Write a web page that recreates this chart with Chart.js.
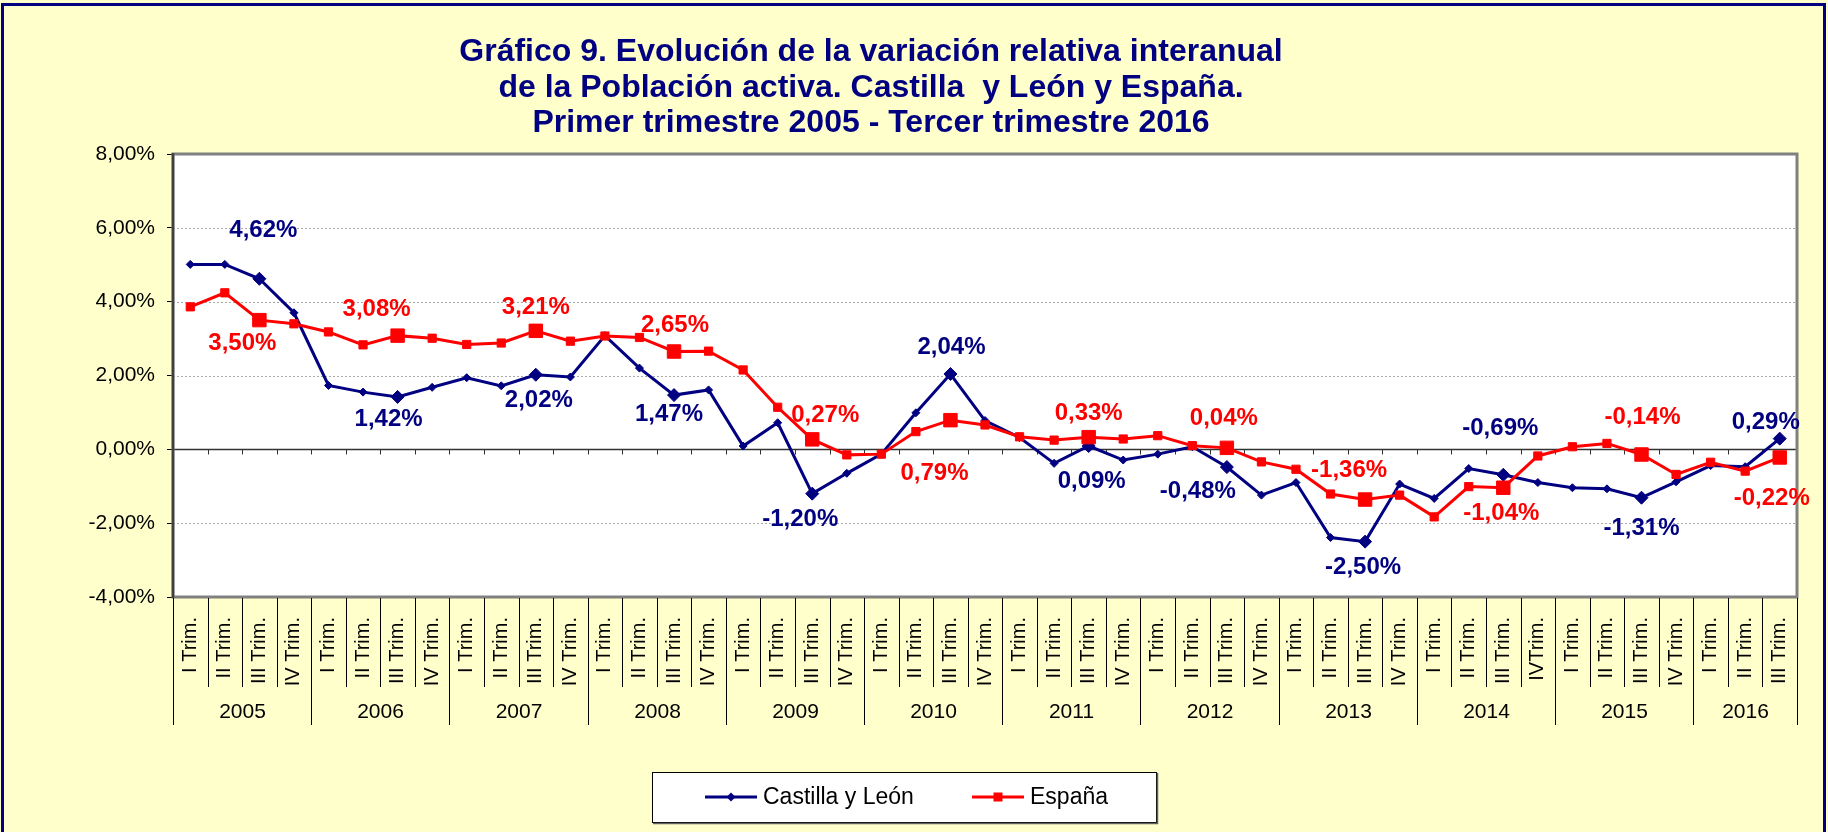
<!DOCTYPE html>
<html>
<head>
<meta charset="utf-8">
<title>Gráfico 9</title>
<script src="https://cdn.jsdelivr.net/npm/chart.js@4.4.1/dist/chart.umd.min.js"></script>
<style>
	html, body { margin: 0; padding: 0; background: #FFFFCC; }
	#wrap { width: 1828px; height: 832px; }
</style>
</head>
<body>
<div id="wrap"><canvas id="chart" width="1828" height="832"></canvas></div>
<script>
// categories
const quarterLabels = [
	'I Trim.', 'II Trim.', 'III Trim.', 'IV Trim.',
	'I Trim.', 'II Trim.', 'III Trim.', 'IV Trim.',
	'I Trim.', 'II Trim.', 'III Trim.', 'IV Trim.',
	'I Trim.', 'II Trim.', 'III Trim.', 'IV Trim.',
	'I Trim.', 'II Trim.', 'III Trim.', 'IV Trim.',
	'I Trim.', 'II Trim.', 'III Trim.', 'IV Trim.',
	'I Trim.', 'II Trim.', 'III Trim.', 'IV Trim.',
	'I Trim.', 'II Trim.', 'III Trim.', 'IV Trim.',
	'I Trim.', 'II Trim.', 'III Trim.', 'IV Trim.',
	'I Trim.', 'II Trim.', 'III Trim.', 'IVTrim.',
	'I Trim.', 'II Trim.', 'III Trim.', 'IV Trim.',
	'I Trim.', 'II Trim.', 'III Trim.'
];
const years = ['2005', '2006', '2007', '2008', '2009', '2010', '2011', '2012', '2013', '2014', '2015', '2016'];
const quartersPerYear = [4, 4, 4, 4, 4, 4, 4, 4, 4, 4, 4, 3];

// series values (%)
const cylValues = [
	5.01, 5.01, 4.62, 3.70, 1.73, 1.55, 1.42, 1.68, 1.94, 1.72, 2.02, 1.96,
	3.08, 2.20, 1.47, 1.61, 0.09, 0.72, -1.20, -0.65, -0.13, 0.99, 2.04, 0.78,
	0.32, -0.38, 0.09, -0.29, -0.13, 0.07, -0.48, -1.24, -0.90, -2.39, -2.50, -0.94,
	-1.33, -0.52, -0.69, -0.90, -1.04, -1.07, -1.31, -0.88, -0.44, -0.47, 0.29
];
const espValues = [
	3.86, 4.24, 3.50, 3.40, 3.18, 2.83, 3.08, 3.01, 2.84, 2.88, 3.21, 2.93,
	3.07, 3.03, 2.65, 2.66, 2.15, 1.14, 0.27, -0.15, -0.13, 0.48, 0.79, 0.66,
	0.34, 0.25, 0.33, 0.28, 0.37, 0.10, 0.04, -0.34, -0.54, -1.21, -1.36, -1.24,
	-1.83, -1.01, -1.04, -0.18, 0.07, 0.16, -0.14, -0.68, -0.35, -0.59, -0.22
];

// labelled points (third quarter of every year)
const labelIdx = [2, 6, 10, 14, 18, 22, 26, 30, 34, 38, 42, 46];

// y axis ticks
const yMin = -4;
const yMax = 8;
const yStep = 2;

const titleLines = [
	'Gráfico 9. Evolución de la variación relativa interanual',
	'de la Población activa. Castilla  y León y España.',
	'Primer trimestre 2005 - Tercer trimestre 2016'
];

// label offsets from the point (px), one pair per labelled point
const cylLabelOffsets = [[4, -48], [-9, 22], [3, 26], [-5, 19], [-12, 26], [1, -27], [3, 35], [-29, 24], [-2, 26], [-3, -46], [0, 31], [-14, -16]];
const espLabelOffsets = [[-17, 23], [-21, -26], [0, -23], [1, -26], [13, -24], [-16, 53], [0, -24], [-3, -29], [-16, -29], [-2, 26], [1, -37], [-8, 41]];
const labelOffsets = [cylLabelOffsets, espLabelOffsets];

const NAVY = '#000080';
const RED = '#FF0000';
const FONT = '"Liberation Sans", Arial, Helvetica, sans-serif';

function fmt(v)
{
	return v.toFixed(2).replace('.', ',') + '%';
}

const decorations = {
	id: 'decorations',
	beforeDraw(chart) {
		const ctx = chart.ctx;
		const a = chart.chartArea;
		ctx.save();
		ctx.fillStyle = '#FFFFCC';
		ctx.fillRect(0, 0, chart.width, chart.height);
		ctx.strokeStyle = NAVY;
		ctx.lineWidth = 3;
		ctx.strokeRect(2.5, 4.5, chart.width - 6, chart.height + 20);
		ctx.fillStyle = '#FFFFFF';
		ctx.fillRect(a.left, a.top, a.right - a.left, a.bottom - a.top);
		ctx.restore();
	},
	beforeDatasetsDraw(chart) {
		const ctx = chart.ctx;
		const a = chart.chartArea;
		const y = chart.scales.y;
		const x = chart.scales.x;
		ctx.save();
		// dotted gridlines
		ctx.strokeStyle = '#A8A8A8';
		ctx.lineWidth = 1;
		ctx.setLineDash([2, 2]);
		for (let v = yMin + yStep; v < yMax; v += yStep)
		{
			if (v === 0)
				continue;
			const py = Math.round(y.getPixelForValue(v)) + 0.5;
			ctx.beginPath();
			ctx.moveTo(a.left, py);
			ctx.lineTo(a.right, py);
			ctx.stroke();
		}
		ctx.setLineDash([]);
		// zero line with category ticks
		const y0 = Math.round(y.getPixelForValue(0)) + 0.5;
		ctx.strokeStyle = '#333333';
		ctx.lineWidth = 1.5;
		ctx.beginPath();
		ctx.moveTo(a.left, y0);
		ctx.lineTo(a.right, y0);
		ctx.stroke();
		const half = (x.getPixelForValue(1) - x.getPixelForValue(0)) / 2;
		ctx.lineWidth = 1;
		ctx.beginPath();
		for (let i = 0; i <= quarterLabels.length; i++)
		{
			const bx = Math.round(x.getPixelForValue(i) - half) + 0.5;
			ctx.moveTo(bx, y0);
			ctx.lineTo(bx, y0 + 5);
		}
		ctx.stroke();
		// plot border
		ctx.strokeStyle = '#808080';
		ctx.lineWidth = 3;
		ctx.strokeRect(a.left, a.top, a.right - a.left, a.bottom - a.top);
		ctx.strokeStyle = '#404040';
		ctx.lineWidth = 2.5;
		ctx.beginPath();
		ctx.moveTo(a.left, a.top - 1);
		ctx.lineTo(a.left, a.bottom + 1);
		ctx.stroke();
		ctx.restore();
	},
	afterDatasetsDraw(chart) {
		const ctx = chart.ctx;
		ctx.save();
		ctx.font = 'bold 24px ' + FONT;
		ctx.textAlign = 'center';
		ctx.textBaseline = 'middle';
		chart.data.datasets.forEach((ds, d) => {
			const meta = chart.getDatasetMeta(d);
			ctx.fillStyle = ds.borderColor;
			labelIdx.forEach((idx, k) => {
				const pt = meta.data[idx];
				const off = labelOffsets[d][k];
				ctx.fillText(fmt(ds.data[idx]), pt.x + off[0], pt.y + off[1]);
			});
		});
		ctx.restore();
	},
	afterDraw(chart) {
		const ctx = chart.ctx;
		const a = chart.chartArea;
		const x = chart.scales.x;
		ctx.save();

		// title
		ctx.fillStyle = NAVY;
		ctx.font = 'bold 32px ' + FONT;
		ctx.textAlign = 'center';
		ctx.textBaseline = 'alphabetic';
		const baselines = [61, 97, 132];
		titleLines.forEach((t, i) => ctx.fillText(t, 871, baselines[i]));

		// category separators and year labels
		const half = (x.getPixelForValue(1) - x.getPixelForValue(0)) / 2;
		ctx.strokeStyle = '#000000';
		ctx.lineWidth = 1;
		ctx.font = '21px ' + FONT;
		ctx.fillStyle = '#000000';
		ctx.textBaseline = 'middle';
		let start = 0;
		ctx.beginPath();
		for (let i = 0; i <= quarterLabels.length; i++)
		{
			const bx = Math.round(x.getPixelForValue(i) - half) + 0.5;
			ctx.moveTo(bx, a.bottom + 1);
			ctx.lineTo(bx, a.bottom + 90);
		}
		years.forEach((yr, j) => {
			const end = start + quartersPerYear[j];
			const x1 = Math.round(x.getPixelForValue(start) - half) + 0.5;
			const x2 = Math.round(x.getPixelForValue(end - 1) + half) + 0.5;
			ctx.moveTo(x1, a.bottom + 1);
			ctx.lineTo(x1, a.bottom + 128);
			ctx.moveTo(x2, a.bottom + 1);
			ctx.lineTo(x2, a.bottom + 128);
			ctx.fillText(yr, (x1 + x2) / 2, a.bottom + 115);
			start = end;
		});
		ctx.stroke();

		// legend
		const lx = 652, ly = 772, lw = 504, lh = 50;
		ctx.fillStyle = '#FFFFFF';
		ctx.fillRect(lx, ly, lw, lh);
		ctx.strokeStyle = '#000000';
		ctx.lineWidth = 1;
		ctx.strokeRect(lx + 0.5, ly + 0.5, lw, lh);
		ctx.strokeStyle = '#606060';
		ctx.lineWidth = 1.5;
		ctx.beginPath();
		ctx.moveTo(lx + 1, ly + lh + 1.5);
		ctx.lineTo(lx + lw + 1.5, ly + lh + 1.5);
		ctx.lineTo(lx + lw + 1.5, ly + 1);
		ctx.stroke();
		const items = [{ x: 705 }, { x: 972 }];
		ctx.font = '23px ' + FONT;
		ctx.textAlign = 'left';
		ctx.textBaseline = 'middle';
		const cy = ly + lh / 2;
		chart.data.datasets.forEach((ds, d) => {
			const ix = items[d].x;
			ctx.strokeStyle = ds.borderColor;
			ctx.lineWidth = 3;
			ctx.beginPath();
			ctx.moveTo(ix, cy);
			ctx.lineTo(ix + 52, cy);
			ctx.stroke();
			ctx.fillStyle = ds.borderColor;
			if (ds.pointStyle === 'rect')
				ctx.fillRect(ix + 26 - 4.5, cy - 4.5, 9, 9);
			else
			{
				ctx.beginPath();
				ctx.moveTo(ix + 26, cy - 4.5);
				ctx.lineTo(ix + 30.5, cy);
				ctx.lineTo(ix + 26, cy + 4.5);
				ctx.lineTo(ix + 21.5, cy);
				ctx.closePath();
				ctx.fill();
			}
			ctx.fillStyle = '#000000';
			ctx.fillText(ds.label, ix + 58, cy + 1);
		});
		ctx.restore();
	}
};

const isLabelled = (c) => labelIdx.includes(c.dataIndex);

new Chart(document.getElementById('chart'), {
	type: 'line',
	data: {
		labels: quarterLabels,
		datasets: [
			{
				label: 'Castilla y León',
				data: cylValues,
				order: 1,
				borderColor: NAVY,
				backgroundColor: NAVY,
				borderWidth: 3,
				tension: 0,
				pointStyle: 'rectRot',
				pointRadius: (c) => isLabelled(c) ? 6.5 : 4,
				pointBackgroundColor: NAVY,
				pointBorderColor: NAVY,
				pointBorderWidth: 1
			},
			{
				label: 'España',
				data: espValues,
				order: 0,
				borderColor: RED,
				backgroundColor: RED,
				borderWidth: 3,
				tension: 0,
				pointStyle: 'rect',
				pointRadius: (c) => isLabelled(c) ? 9.5 : 5.8,
				pointBackgroundColor: RED,
				pointBorderColor: RED,
				pointBorderWidth: 1
			}
		]
	},
	options: {
		responsive: false,
		animation: false,
		devicePixelRatio: 1,
		layout: { padding: { top: 154, right: 31, bottom: 0, left: 0 } },
		plugins: {
			legend: { display: false },
			title: { display: false },
			tooltip: { enabled: false }
		},
		scales: {
			x: {
				type: 'category',
				offset: true,
				grid: { display: false },
				border: { display: false },
				ticks: {
					autoSkip: false,
					minRotation: 90,
					maxRotation: 90,
					padding: 12,
					color: '#000000',
					font: { family: FONT, size: 20 }
				},
				afterFit(scale) { scale.height = 235; }
			},
			y: {
				min: yMin,
				max: yMax,
				grid: {
					drawOnChartArea: false,
					drawTicks: true,
					tickLength: 6,
					color: '#000000'
				},
				border: { display: false },
				ticks: {
					stepSize: yStep,
					padding: 12,
					color: '#000000',
					font: { family: FONT, size: 21 },
					callback: (v) => fmt(v)
				},
				afterFit(scale) { scale.width = 173; }
			}
		}
	},
	plugins: [decorations]
});
</script>
</body>
</html>
